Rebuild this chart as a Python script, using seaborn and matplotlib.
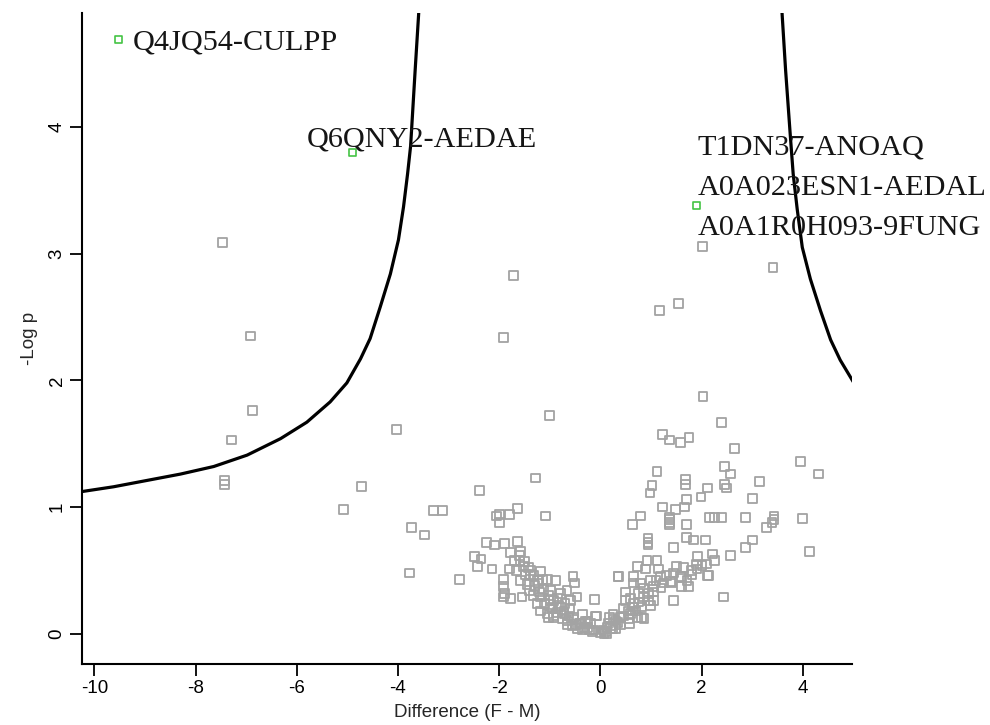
import numpy as np
import pandas as pd
import matplotlib
matplotlib.use("Agg")
import matplotlib.pyplot as plt
import seaborn as sns

# ---------------- data ----------------
gray_x = [
    -7.46, -6.92, -6.88, -7.29, -7.43, -7.43,
    -4.03, -4.72, -5.08, -2.39, -3.29, -3.12, -3.73, -3.48, -3.77, -2.79,
    -1.71, -1.92, -1.01, -1.28,
    1.17, 1.55, 2.02, 3.41,
    2.03, 2.40, 1.23, 1.36, 1.59, 1.75, 2.65, 3.95, 4.31,
    1.12, 2.46, 2.57, 3.15, 1.02, 0.98, 1.68, 1.68, 2.11, 2.46, 2.49,
    3.01, 1.99, 1.70, 1.22, 1.48, 1.67,
    1.37, 1.37, 1.37, 1.37, 1.70, 0.80, 0.64,
    2.16, 2.25, 2.40, 2.87, 3.43, 3.39, 3.29, 3.43, 3.99, 4.14,
    3.01, 2.87, 2.57, 0.94, 0.94, 0.94, 1.45, 1.70, 1.84, 2.08,
    2.43, 1.45, 0.35, -0.11, -0.66,
    2.14, 1.92, 2.21, 2.25, 2.09,
    -2.25, -2.09, -1.89, -1.63, -1.63, -1.80, -1.99, -1.99, -1.08, -2.06,
    -1.78, -1.58, -2.48, -2.36, -2.43, -2.14, -1.80,
    -1.59, -1.52, -1.38, -1.19, -1.25, -1.58, -1.45, -1.05, -0.89, -1.92, -1.91, -1.91, -1.78, -1.55, -1.90,
    -0.54, -0.51, -0.46, -1.15, -1.38,
    -0.66, -0.79, -0.99, -0.99, -1.19, -1.32,
    -1.05, -0.92, -1.19, -1.25, -0.99, -1.02, -0.92,
    -0.07, -0.53, -0.40, -0.26, -0.13, 0.00, 0.13, -0.49,
    -0.79, -0.59, -0.72,
    -1.60, -1.50, -1.42, -1.32, -1.22, -1.12, -1.02, -0.92, -0.82, -0.72, -0.62, -0.52, -0.42, -0.32, -0.22,
    -0.35, -0.30, -0.20, -0.15, 0.05, 0.10, 0.20, 0.25, 0.30,
    0.92, 1.12, 0.73, 0.89, 1.15, 1.30, 1.50, 1.19, 1.38, 1.58, 1.71, 1.81, 1.91, 2.01, 1.61, 1.74,
    0.99, 0.66, 0.79, 0.66, 0.36, 0.49, 1.05, 2.12,
    0.49, 0.66, 0.82, 0.59, 0.73, 0.40, 0.26, 0.13, 0.07, 0.86, 0.99, 1.05,
    0.58, 0.82, 0.18, -0.09,
    0.20, 0.35, 0.45, 0.55, 0.65, 0.75, 0.85, 0.95, 1.05, 1.20, 1.40, 1.60, 1.80, 1.90,
    -0.95, -0.85, -0.75, -0.65, -0.55, -0.45, -0.35, -0.25, -0.60, -0.70, -0.85, -1.10,
    -1.20, -1.30, -1.40, -1.48, -1.65, -1.70,
    0.15, 0.25, 0.30, 0.40, 0.45, 0.55, 0.60, 0.70, 0.75, 0.85, 0.95, 1.10, 1.25, 1.45, 1.65,
]
gray_y = [
    3.09, 2.35, 1.76, 1.53, 1.21, 1.18,
    1.61, 1.16, 0.98, 1.13, 0.97, 0.97, 0.84, 0.78, 0.48, 0.43,
    2.83, 2.34, 1.72, 1.23,
    2.55, 2.61, 3.06, 2.89,
    1.87, 1.67, 1.57, 1.53, 1.51, 1.55, 1.46, 1.36, 1.26,
    1.28, 1.32, 1.26, 1.20, 1.17, 1.11, 1.22, 1.18, 1.15, 1.18, 1.15,
    1.07, 1.08, 1.06, 1.00, 0.98, 1.00,
    0.92, 0.90, 0.88, 0.86, 0.86, 0.93, 0.86,
    0.92, 0.92, 0.92, 0.92, 0.93, 0.88, 0.84, 0.90, 0.91, 0.65,
    0.74, 0.68, 0.62, 0.75, 0.72, 0.70, 0.68, 0.76, 0.74, 0.74,
    0.29, 0.26, 0.45, 0.27, 0.07,
    0.46, 0.61, 0.63, 0.58, 0.55,
    0.72, 0.70, 0.71, 0.73, 0.99, 0.94, 0.94, 0.88, 0.93, 0.93,
    0.64, 0.65, 0.61, 0.59, 0.53, 0.51, 0.51,
    0.58, 0.53, 0.50, 0.49, 0.42, 0.42, 0.39, 0.43, 0.42, 0.43, 0.37, 0.29, 0.28, 0.29, 0.32,
    0.45, 0.40, 0.29, 0.43, 0.47,
    0.34, 0.32, 0.34, 0.26, 0.29, 0.30,
    0.16, 0.13, 0.18, 0.24, 0.21, 0.13, 0.14,
    0.14, 0.13, 0.08, 0.05, 0.03, 0.01, 0.00, 0.07,
    0.21, 0.26, 0.16,
    0.62, 0.57, 0.52, 0.46, 0.40, 0.35, 0.30, 0.26, 0.22, 0.18, 0.14, 0.11, 0.08, 0.05, 0.03,
    0.15, 0.10, 0.08, 0.02, 0.03, 0.02, 0.06, 0.04, 0.10,
    0.58, 0.58, 0.53, 0.51, 0.51, 0.46, 0.53, 0.45, 0.41, 0.45, 0.42, 0.47, 0.51, 0.54, 0.37, 0.37,
    0.42, 0.45, 0.40, 0.40, 0.45, 0.33, 0.37, 0.46,
    0.26, 0.24, 0.21, 0.16, 0.13, 0.13, 0.11, 0.05, 0.00, 0.12, 0.22, 0.26,
    0.08, 0.13, 0.13, 0.14,
    0.04, 0.09, 0.14, 0.18, 0.21, 0.25, 0.29, 0.32, 0.33, 0.36, 0.40, 0.44, 0.50, 0.55,
    0.20, 0.17, 0.12, 0.10, 0.06, 0.04, 0.03, 0.10, 0.20, 0.24, 0.28, 0.24,
    0.33, 0.38, 0.34, 0.47, 0.50, 0.58,
    0.08, 0.15, 0.04, 0.07, 0.20, 0.12, 0.28, 0.18, 0.32, 0.36, 0.26, 0.42, 0.40, 0.48, 0.52,
]

sig_x = [-9.52, -4.90, 1.90]
sig_y = [4.69, 3.80, 3.38]
sig_labels = [["Q4JQ54-CULPP"], ["Q6QNY2-AEDAE"],
              ["T1DN37-ANOAQ", "A0A023ESN1-AEDAL", "A0A1R0H093-9FUNG"]]

left_curve_x = [-10.28, -9.62, -8.96, -8.30, -7.64, -6.98, -6.32, -5.80, -5.34, -5.01,
                -4.74, -4.55, -4.35, -4.15, -3.99, -3.89, -3.81, -3.75, -3.66, -3.59]
left_curve_y = [1.12, 1.16, 1.21, 1.26, 1.32, 1.41, 1.54, 1.67, 1.83, 1.98,
                2.17, 2.33, 2.58, 2.84, 3.11, 3.37, 3.63, 3.85, 4.45, 4.90]
right_curve_x = [3.59, 3.66, 3.75, 3.81, 3.89, 3.99, 4.15, 4.35, 4.55, 4.74, 5.01]
right_curve_y = [4.90, 4.45, 3.95, 3.63, 3.35, 3.05, 2.80, 2.55, 2.32, 2.16, 1.98]

x_ticks = [-10, -8, -6, -4, -2, 0, 2, 4]
y_ticks = [0, 1, 2, 3, 4]

# ---------------- drawing ----------------
sns.set_style("ticks")
plt.rcParams["font.family"] = ["Liberation Sans", "DejaVu Sans"]

fig = plt.figure(figsize=(9.9, 7.25), dpi=100)
ax = fig.add_axes([0.0825, 0.084, 0.7785, 0.898])

gray_df = pd.DataFrame({"diff": gray_x, "logp": gray_y})
sig_df = pd.DataFrame({"diff": sig_x, "logp": sig_y})

sns.scatterplot(data=gray_df, x="diff", y="logp", marker="s", s=40,
                fc="none", ec="#a3a3a3", linewidth=1.3, ax=ax, zorder=2)
sns.lineplot(x=left_curve_x, y=left_curve_y, sort=False, estimator=None,
             color="black", linewidth=2.3, ax=ax, zorder=3)
sns.lineplot(x=right_curve_x, y=right_curve_y, sort=False, estimator=None,
             color="black", linewidth=2.3, ax=ax, zorder=3)
sns.scatterplot(data=sig_df, x="diff", y="logp", marker="s", s=28,
                fc="none", ec="#44c444", linewidth=1.2, ax=ax, zorder=4)

# label offsets (points) relative to each significant marker
label_offsets = [[(10.5, -7.0)], [(-33.0, 4.5)], [(1.0, 36.5), (1.0, 7.7), (1.0, -21.0)]]
for xv, yv, labs, offs in zip(sig_x, sig_y, sig_labels, label_offsets):
    for lab, off in zip(labs, offs):
        ax.annotate(lab, (xv, yv), xytext=off, textcoords="offset points",
                    ha="left", va="baseline", fontsize=21.8,
                    family=["Liberation Serif", "DejaVu Serif"], color="#151515", zorder=5)

ax.set_xlim(-10.25, 4.98)
ax.set_ylim(-0.24, 4.9)
ax.set_xticks(x_ticks)
ax.set_yticks(y_ticks)
ax.set_xticklabels([str(v) for v in x_ticks])
ax.set_yticklabels([str(v) for v in y_ticks], rotation=90, va="center")
ax.tick_params(axis="both", direction="out", length=8.5, width=1.3, labelsize=13.5,
               colors="black", pad=3)
ax.set_xlabel("Difference (F - M)", fontsize=13.5, labelpad=5)
ax.set_ylabel("-Log p", fontsize=13.5, labelpad=8)

sns.despine(ax=ax)
for side in ["left", "bottom"]:
    ax.spines[side].set_linewidth(1.5)
    ax.spines[side].set_color("black")

fig.savefig("out.png", dpi=100)
